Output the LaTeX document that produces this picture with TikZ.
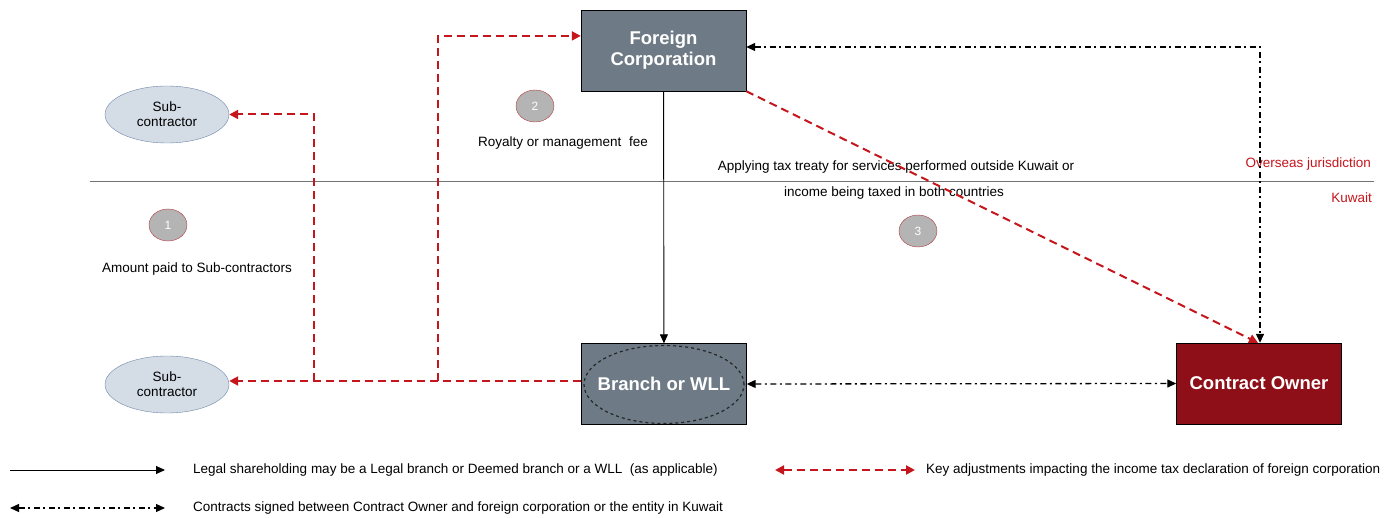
\documentclass[tikz,border=0pt]{standalone}
\usepackage{fontspec}
\setmainfont{Liberation Sans}
\usetikzlibrary{arrows.meta,shapes.geometric}
\definecolor{boxgray}{HTML}{6E7B86}
\definecolor{ownerred}{HTML}{8E0F17}
\definecolor{subfill}{HTML}{D4DCE6}
\definecolor{subline}{HTML}{6F86A8}
\definecolor{keyred}{HTML}{C4161C}
\definecolor{numfill}{HTML}{B4B4B4}
\definecolor{numline}{HTML}{B23A40}
\tikzset{
  entity/.style={draw=black, minimum width=165pt, minimum height=81pt, text=white,
    font=\fontsize{18.5}{21}\selectfont\bfseries, align=center, inner sep=0pt},
  subbox/.style={ellipse, draw=subline, fill=subfill, minimum width=124pt, minimum height=57pt,
    font=\fontsize{13.5}{15}\selectfont, align=center, inner sep=0pt},
  numdot/.style={ellipse, draw=numline, fill=numfill, minimum width=38pt, minimum height=32pt,
    text=white, font=\fontsize{12}{13}\selectfont, inner sep=0pt},
  note/.style={font=\fontsize{13.5}{15}\selectfont, inner sep=0pt},
  place/.style={font=\fontsize{13.5}{15}\selectfont, text=keyred, inner sep=0pt},
  legal/.style={-{Triangle[length=9pt,width=8pt]}, line width=0.9pt},
  contract/.style={{Triangle[length=9pt,width=8pt]}-{Triangle[length=9pt,width=8pt]},
    line width=1.3pt, dash pattern=on 6pt off 3.5pt on 2pt off 3.5pt},
  keyadj/.style={-{Triangle[length=9pt,width=9pt]}, draw=keyred, line width=2pt,
    dash pattern=on 8pt off 5pt},
  keyline/.style={draw=keyred, line width=2pt, dash pattern=on 8pt off 5pt}
}
\begin{document}
\begin{tikzpicture}[x=1pt,y=-1pt]
  \useasboundingbox (0,0) rectangle (1398,518);
%%   main entities
  \node[entity, fill=boxgray] (foreign) at (663.5,50.5) {Foreign\\Corporation};
  \node[entity, fill=boxgray] (branch) at (664,384) {Branch or WLL};
  \node[draw=black!85, dashed, line width=1.2pt, ellipse, minimum width=160pt, minimum height=78pt] (wll) at (664,384.5) {};
  \node[entity, fill=ownerred] (owner) at (1259,383.5) {Contract Owner};
  \node[subbox] (subtop) at (167,114.5) {Sub-\\contractor};
  \node[subbox] (subbot) at (167,384.5) {Sub-\\contractor};
%%   jurisdiction border
  \coordinate (borderL) at (90,181);
  \coordinate (borderR) at (1374,181);
  \draw[black!55, line width=0.8pt] (borderL) -- (borderR);
  \node[place, anchor=east] (overseas) at (1371,164) {Overseas jurisdiction};
  \node[place, anchor=east] (kuwait) at (1372,198) {Kuwait};
%%   numbered notes
  \node[numdot] (one) at (168,225) {1};
  \node[numdot] (two) at (535,106) {2};
  \node[numdot] (three) at (918,231) {3};
  \node[note] (amount) at (197,269) {Amount paid to Sub-contractors};
  \node[note] (royalty) at (563,143) {Royalty or management\ \ fee};
  \node[note] (treaty) at (896,167) {Applying tax treaty for services performed outside Kuwait or};
  \node[note] (taxed) at (894,193) {income being taxed in both countries};
%%   connectors
  \draw[legal] (foreign) -- (branch);
  \coordinate (splitA) at (314,381);
  \coordinate (splitB) at (438,381);
  \draw[keyadj] (branch.west |- splitA) -- (subbot.east |- splitA);
  \draw[keyadj] (splitA) -- (splitA |- subtop.east) -- (subtop.east);
  \draw[keyadj] (splitB) -- (splitB |- foreign.170) -- (foreign.170);
  \draw[keyadj] (foreign.south east) -- ([xshift=-1pt]owner.north);
  \coordinate (turn) at (1260,47);
  \draw[contract] (foreign.east |- turn) -- (turn) -- (turn |- owner.north);
  \draw[contract] (branch.east) -- (owner.west);
%%   legend
  \coordinate (legA) at (10,470);
  \coordinate (legB) at (165,470);
  \coordinate (legC) at (10,508);
  \coordinate (legD) at (165,508);
  \coordinate (legE) at (775,470);
  \coordinate (legF) at (915,470);
  \draw[legal] (legA) -- (legB);
  \draw[contract] (legC) -- (legD);
  \draw[keyline, {Triangle[length=9pt,width=9pt]}-{Triangle[length=9pt,width=9pt]}] (legE) -- (legF);
  \node[note, anchor=west] (legaltext) at (193,470) {Legal shareholding may be a Legal branch or Deemed branch or a WLL\ \ (as applicable)};
  \node[note, anchor=west] (contracttext) at (193,508) {Contracts signed between Contract Owner and foreign corporation or the entity in Kuwait};
  \node[note, anchor=west] (keytext) at (926,470) {Key adjustments impacting the income tax declaration of foreign corporation};
\end{tikzpicture}
\end{document}
